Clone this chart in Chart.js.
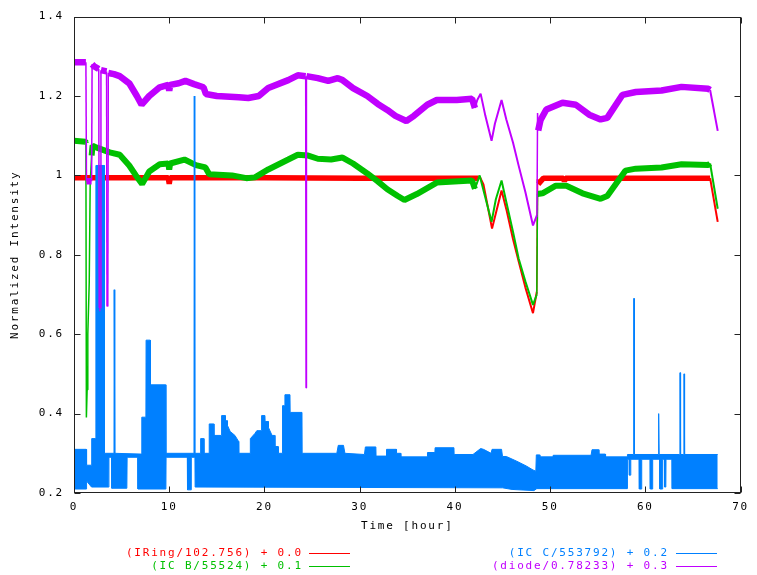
<!DOCTYPE html>
<html><head><meta charset="utf-8">
<script src="https://cdn.jsdelivr.net/npm/chart.js"></script>
<style>html,body{margin:0;padding:0;background:#fff}canvas{display:block}</style>
</head><body>
<canvas id="c" width="757" height="575"></canvas>
<script>
// ---------- data ----------
const xTickValues = [0, 10, 20, 30, 40, 50, 60, 70];
const xTickLabels = ['0', '10', '20', '30', '40', '50', '60', '70'];
const yTickValues = [0.2, 0.4, 0.6, 0.8, 1.0, 1.2, 1.4];
const yTickLabels = ['0.2', '0.4', '0.6', '0.8', '1', '1.2', '1.4'];
const xTitle = 'Time [hour]';
const yTitle = 'Normalized Intensity';

const ringLabel = '(IRing/102.756) + 0.0';
const icbLabel = '(IC B/55524) + 0.1';
const iccLabel = '(IC C/553792) + 0.2';
const diodeLabel = '(diode/0.78233) + 0.3';

const ringT = [0, 9.9, 10.0, 10.1, 20, 30, 42.5, 42.65, 43.0, 43.9, 44.9, 45.4, 46.1, 46.7, 47.4, 48.2, 48.6, 48.68, 48.75, 49.3, 51.4, 51.5, 51.6, 66.8, 67.6];
const ringV = [0.994, 0.994, 0.979, 0.994, 0.994, 0.993, 0.993, 0.995, 0.977, 0.866, 0.962, 0.915, 0.84, 0.783, 0.718, 0.653, 0.707, 0.99, 0.978, 0.993, 0.993, 0.985, 0.993, 0.993, 0.883];

const icbT = [0, 1.2, 1.25, 1.3, 1.38, 1.45, 1.6, 1.7, 1.85, 1.95, 2.4, 3.75, 4.8, 5.8, 6.5, 7.15, 7.9, 9.0, 9.9, 10.0, 10.1, 11.6, 12.8, 13.8, 14.2, 16.6, 18.1, 19.0, 20.4, 22.5, 23.5, 24.6, 25.6, 27.0, 28.2, 29.3, 30.8, 31.9, 32.9, 34.0, 34.7, 36.0, 38.1, 41.8, 42.1, 42.6, 43.85, 44.3, 44.9, 45.4, 46.1, 46.7, 47.4, 48.2, 48.6, 48.68, 49.2, 50.6, 51.7, 53.4, 55.3, 56.0, 57.9, 59.0, 61.7, 63.8, 66.6, 66.8, 67.6];
const icbV = [1.087, 1.085, 1.083, 0.39, 0.46, 0.6, 0.73, 0.98, 1.05, 1.075, 1.07, 1.058, 1.052, 1.025, 1.0, 0.978, 1.01, 1.028, 1.03, 1.015, 1.03, 1.04, 1.026, 1.02, 1.003, 1.0, 0.993, 0.995, 1.015, 1.04, 1.052, 1.05, 1.042, 1.04, 1.045, 1.03, 1.005, 0.985, 0.965, 0.948, 0.938, 0.953, 0.982, 0.987, 0.966, 1.0, 0.883, 0.94, 0.987, 0.933, 0.858, 0.79, 0.733, 0.674, 0.70, 0.953, 0.955, 0.974, 0.974, 0.955, 0.941, 0.948, 1.012, 1.017, 1.02, 1.028, 1.026, 1.03, 0.916];

const iccHiT = [0, 1.28, 1.32, 1.84, 1.86, 2.28, 2.30, 3.18, 3.20, 4.20, 4.22, 4.27, 4.29, 7.10, 7.12, 7.55, 7.57, 8.00, 8.02, 9.63, 9.65, 12.60, 12.63, 12.67, 12.70, 13.28, 13.30, 13.63, 13.65, 14.18, 14.20, 14.68, 14.70, 15.48, 15.50, 15.88, 15.90, 16.10, 16.12, 16.40, 16.90, 17.28, 17.30, 18.50, 18.52, 19.00, 19.20, 19.68, 19.70, 20.05, 20.07, 20.40, 20.42, 20.80, 21.08, 21.10, 21.43, 21.45, 21.88, 21.90, 22.13, 22.15, 22.68, 22.70, 23.94, 23.96, 27.60, 27.75, 28.30, 28.45, 30.50, 30.60, 31.70, 31.72, 32.80, 32.82, 33.85, 33.87, 34.30, 34.32, 37.10, 37.12, 37.90, 37.92, 39.90, 39.92, 41.90, 42.70, 43.00, 43.80, 43.90, 44.90, 45.00, 45.40, 46.50, 47.50, 48.20, 48.50, 48.55, 48.90, 48.92, 50.30, 50.32, 54.30, 54.40, 55.10, 55.12, 55.80, 55.82, 58.10, 58.12, 58.75, 58.78, 58.82, 58.85, 61.35, 61.38, 61.42, 61.45, 63.60, 63.63, 63.67, 63.70, 64.02, 64.05, 64.09, 64.12, 67.60];
const iccHiV = [0.31, 0.31, 0.27, 0.27, 0.337, 0.337, 1.025, 1.025, 0.30, 0.30, 0.712, 0.712, 0.30, 0.298, 0.391, 0.391, 0.585, 0.585, 0.4725, 0.4725, 0.30, 0.30, 1.2, 1.2, 0.30, 0.30, 0.337, 0.337, 0.30, 0.30, 0.374, 0.374, 0.345, 0.345, 0.395, 0.395, 0.382, 0.382, 0.37, 0.355, 0.345, 0.33, 0.30, 0.30, 0.337, 0.35, 0.357, 0.357, 0.395, 0.395, 0.38, 0.38, 0.365, 0.345, 0.345, 0.317, 0.317, 0.30, 0.30, 0.42, 0.42, 0.4475, 0.4475, 0.403, 0.403, 0.30, 0.30, 0.32, 0.32, 0.30, 0.297, 0.316, 0.316, 0.293, 0.293, 0.31, 0.31, 0.30, 0.30, 0.291, 0.291, 0.302, 0.302, 0.314, 0.314, 0.297, 0.297, 0.312, 0.31, 0.30, 0.31, 0.31, 0.292, 0.292, 0.28, 0.268, 0.258, 0.255, 0.296, 0.296, 0.291, 0.291, 0.295, 0.295, 0.309, 0.309, 0.298, 0.298, 0.291, 0.291, 0.297, 0.297, 0.69, 0.69, 0.297, 0.297, 0.40, 0.40, 0.297, 0.297, 0.503, 0.503, 0.297, 0.297, 0.50, 0.50, 0.297, 0.297];

const iccLoT = [0, 1.28, 1.32, 1.84, 3.65, 3.67, 3.95, 3.97, 5.55, 5.58, 6.70, 6.72, 9.65, 9.67, 11.90, 11.92, 12.30, 12.32, 12.70, 12.72, 45.0, 46.0, 48.3, 48.6, 58.10, 58.12, 58.30, 58.32, 58.45, 58.47, 59.35, 59.37, 59.60, 59.62, 60.50, 60.52, 60.75, 60.77, 61.50, 61.52, 61.80, 61.82, 62.00, 62.02, 62.15, 62.17, 62.80, 62.82, 67.60];
const iccLoV = [0.21, 0.21, 0.23, 0.215, 0.215, 0.29, 0.29, 0.212, 0.212, 0.29, 0.29, 0.21, 0.21, 0.29, 0.29, 0.208, 0.208, 0.29, 0.29, 0.215, 0.213, 0.209, 0.206, 0.211, 0.211, 0.285, 0.285, 0.245, 0.245, 0.285, 0.285, 0.21, 0.21, 0.285, 0.285, 0.21, 0.21, 0.285, 0.285, 0.21, 0.21, 0.285, 0.285, 0.215, 0.215, 0.285, 0.285, 0.211, 0.211];

const diodeT = [0, 1.25, 1.31, 1.85, 1.9, 2.1, 2.6, 2.65, 2.78, 2.83, 3.42, 3.47, 3.55, 3.6, 4.2, 4.8, 5.8, 6.6, 7.1, 7.9, 9.0, 9.9, 10.0, 10.1, 11.0, 11.7, 12.6, 13.6, 13.85, 15.0, 17.3, 18.3, 19.4, 20.4, 22.5, 23.5, 24.33, 24.37, 24.41, 25.6, 26.7, 27.7, 28.2, 29.3, 30.8, 31.9, 32.9, 33.75, 34.9, 35.7, 37.1, 38.1, 40.2, 41.8, 42.1, 42.35, 42.7, 43.2, 43.85, 44.2, 44.9, 45.4, 46.1, 46.7, 47.4, 48.2, 48.62, 48.68, 48.75, 49.0, 49.6, 51.3, 52.7, 54.1, 55.3, 56.0, 57.6, 59.0, 61.7, 63.8, 66.6, 66.8, 67.6];
const diodeV = [1.285, 1.285, 0.985, 0.985, 1.28, 1.275, 1.268, 0.666, 0.666, 1.265, 1.262, 0.67, 0.67, 1.258, 1.255, 1.25, 1.232, 1.2, 1.178, 1.2, 1.222, 1.228, 1.213, 1.228, 1.232, 1.238, 1.23, 1.222, 1.205, 1.2, 1.197, 1.195, 1.2, 1.22, 1.24, 1.252, 1.25, 0.465, 1.25, 1.245, 1.238, 1.245, 1.24, 1.22, 1.2, 1.18, 1.165, 1.15, 1.137, 1.15, 1.178, 1.19, 1.19, 1.193, 1.17, 1.19, 1.206, 1.15, 1.087, 1.13, 1.19, 1.141, 1.083, 1.024, 0.958, 0.874, 0.9, 1.157, 1.113, 1.14, 1.166, 1.183, 1.178, 1.153, 1.141, 1.145, 1.203, 1.21, 1.214, 1.223, 1.218, 1.215, 1.112];

// ---------- styles ----------
const RED = '#ff0000', GREEN = '#00c000', BLUE = '#0080ff', PURPLE = '#c000ff';
const LS = '1.8px';
const FAMILY = "'DejaVu Sans Mono', 'Liberation Mono', monospace";
Chart.defaults.font.family = FAMILY;
Chart.defaults.font.size = 11;
Chart.defaults.color = '#000';

const pts = (T, V) => T.map((t, i) => ({x: t, y: V[i]}));

function widthFor(thick) {
  return ctx => {
    const a = ctx.p0.parsed, b = ctx.p1.parsed;
    const dx = Math.max(b.x - a.x, 1e-9);
    const slope = Math.abs((b.y - a.y) / dx);
    if (slope > 0.3) return 1.5;
    if (a.x >= 42.0 && b.x <= 48.8) return 2;
    if (a.x >= 66.7) return 2;
    return thick;
  };
}

function lineDs(label, T, V, color, thick) {
  return {
    label, data: pts(T, V), borderColor: color, backgroundColor: color,
    borderWidth: thick, pointRadius: 0, tension: 0, fill: false,
    borderJoinStyle: 'bevel', borderCapStyle: 'butt',
    segment: {borderWidth: widthFor(thick)}
  };
}

const spacingPlugin = {
  id: 'spacing',
  beforeLayout(c) { c.ctx.letterSpacing = LS; },
  beforeDraw(c) { c.ctx.letterSpacing = LS; }
};

const framePlugin = {
  id: 'frame',
  afterDraw(c) {
    const {ctx, chartArea: a, scales: {x, y}} = c;
    ctx.save();
    ctx.strokeStyle = '#222';
    ctx.lineWidth = 1;
    const L = Math.round(a.left) + 0.5, R = Math.round(a.right) - 0.5;
    const T = Math.round(a.top) + 0.5, B = Math.round(a.bottom) - 0.5;
    ctx.strokeRect(L, T, R - L, B - T);
    ctx.beginPath();
    const TL = 6;
    xTickValues.forEach(v => {
      const px = Math.round(x.getPixelForValue(v)) + 0.5;
      ctx.moveTo(px, B); ctx.lineTo(px, B - TL);
      ctx.moveTo(px, T); ctx.lineTo(px, T + TL);
    });
    yTickValues.forEach(v => {
      const py = Math.round(y.getPixelForValue(v)) + 0.5;
      ctx.moveTo(L, py); ctx.lineTo(L + TL, py);
      ctx.moveTo(R, py); ctx.lineTo(R - TL, py);
    });
    ctx.stroke();
    ctx.restore();
  }
};

const legendPlugin = {
  id: 'gpLegend',
  afterDraw(c) {
    const ctx = c.ctx;
    const ds = c.data.datasets;
    const items = [
      {i: 4, xr: 301, x0: 309, x1: 350, y: 553},
      {i: 3, xr: 301, x0: 309, x1: 350, y: 566},
      {i: 1, xr: 667, x0: 676, x1: 717, y: 553},
      {i: 0, xr: 667, x0: 676, x1: 717, y: 566}
    ];
    ctx.save();
    ctx.letterSpacing = LS;
    ctx.font = '11px ' + FAMILY;
    ctx.textAlign = 'right';
    ctx.textBaseline = 'middle';
    items.forEach(it => {
      const d = ds[it.i];
      ctx.fillStyle = d.borderColor;
      ctx.fillText(d.label, it.xr + 1.8, it.y);
      ctx.strokeStyle = d.borderColor;
      ctx.lineWidth = 1;
      ctx.beginPath();
      ctx.moveTo(it.x0, it.y + 0.5); ctx.lineTo(it.x1, it.y + 0.5);
      ctx.stroke();
    });
    ctx.restore();
  }
};

new Chart(document.getElementById('c'), {
  type: 'line',
  data: {
    datasets: [
      lineDs(diodeLabel, diodeT, diodeV, PURPLE, 6.5),
      {label: iccLabel, data: pts(iccHiT, iccHiV), borderColor: BLUE, backgroundColor: BLUE,
       borderWidth: 1, pointRadius: 0, tension: 0, fill: '+1', borderJoinStyle: 'bevel'},
      {label: iccLabel + ' low', data: pts(iccLoT, iccLoV), borderColor: BLUE, backgroundColor: BLUE,
       borderWidth: 1, pointRadius: 0, tension: 0, fill: false, borderJoinStyle: 'bevel'},
      lineDs(icbLabel, icbT, icbV, GREEN, 6),
      lineDs(ringLabel, ringT, ringV, RED, 5.5)
    ]
  },
  options: {
    responsive: false,
    animation: false,
    devicePixelRatio: 1,
    layout: {padding: {left: 0, top: 13, right: 11, bottom: 0}},
    plugins: {legend: {display: false}, tooltip: {enabled: false}},
    scales: {
      x: {
        type: 'linear', position: 'bottom', min: 0, max: 70,
        grid: {display: false, drawTicks: false}, border: {display: false},
        afterBuildTicks: s => { s.ticks = xTickValues.map(v => ({value: v})); },
        afterFit: s => { s.height = 82; },
        ticks: {padding: 8, maxRotation: 0, autoSkip: false,
                callback: (v, i) => xTickLabels[i]},
        title: {display: true, text: xTitle, padding: {top: 0, bottom: 42}}
      },
      y: {
        type: 'linear', position: 'left', min: 0.2, max: 1.4,
        grid: {display: false, drawTicks: false}, border: {display: false},
        afterBuildTicks: s => { s.ticks = yTickValues.map(v => ({value: v})); },
        afterFit: s => { s.width = 74; },
        ticks: {padding: 10, autoSkip: false, callback: (v, i) => yTickLabels[i]},
        title: {display: true, text: yTitle, padding: {top: 9, bottom: 0}}
      }
    }
  },
  plugins: [spacingPlugin, framePlugin, legendPlugin]
});
</script>
</body></html>
